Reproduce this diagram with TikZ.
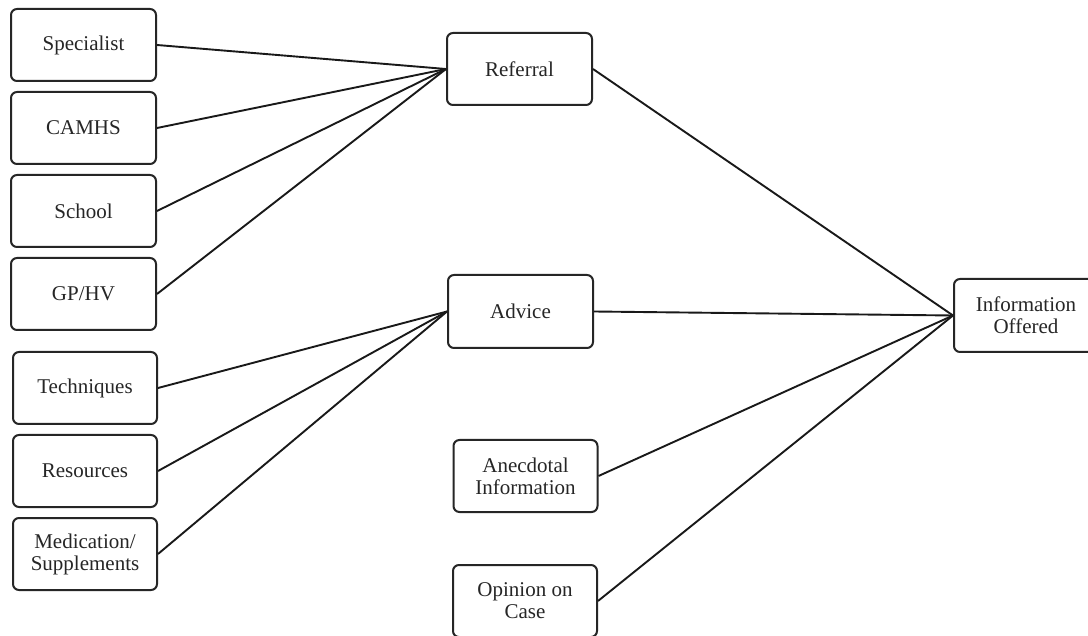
\documentclass[tikz,border=0pt]{standalone}
\usepackage{fontspec}
\setmainfont{Liberation Serif}
\begin{document}
\begin{tikzpicture}[x=1pt,y=-1pt,
  box/.style={draw=black!85, line width=2pt, rounded corners=6pt, minimum width=145pt, minimum height=72pt, align=center, inner sep=0pt, font=\fontsize{21}{22}\selectfont, text=black!85},
  conn/.style={draw=black!90, line width=1.9pt}]
\useasboundingbox (0,0) rectangle (1088,636);
\fill[white] (0,0) rectangle (1088,636);
\node[box] (spec) at (83.5,45) {Specialist};
\node[box] (camhs) at (83.5,128) {CAMHS};
\node[box] (school) at (83.5,211) {School};
\node[box] (gphv) at (83.5,294) {GP/HV};
\node[box, minimum width=144pt] (tech) at (85,388) {Techniques};
\node[box, minimum width=144pt] (res) at (85,471) {Resources};
\node[box, minimum width=144pt] (med) at (85,554) {Medication/\\Supplements};
\node[box] (ref) at (519.5,69) {Referral};
\node[box, minimum height=73pt] (adv) at (520.5,311.5) {Advice};
\node[box, minimum width=144pt] (anec) at (525.5,476) {Anecdotal\\Information};
\node[box, minimum width=144pt] (opin) at (525,601) {Opinion on\\Case};
\node[box, minimum width=144pt, minimum height=73pt] (info) at (1026,315.5) {Information\\Offered};
\foreach \s in {spec,camhs,school,gphv} \draw[conn] (\s.east) -- (ref.west);
\foreach \s in {tech,res,med} \draw[conn] (\s.east) -- (adv.west);
\foreach \s in {ref,adv,anec,opin} \draw[conn] (\s.east) -- (info.west);
\end{tikzpicture}
\end{document}
